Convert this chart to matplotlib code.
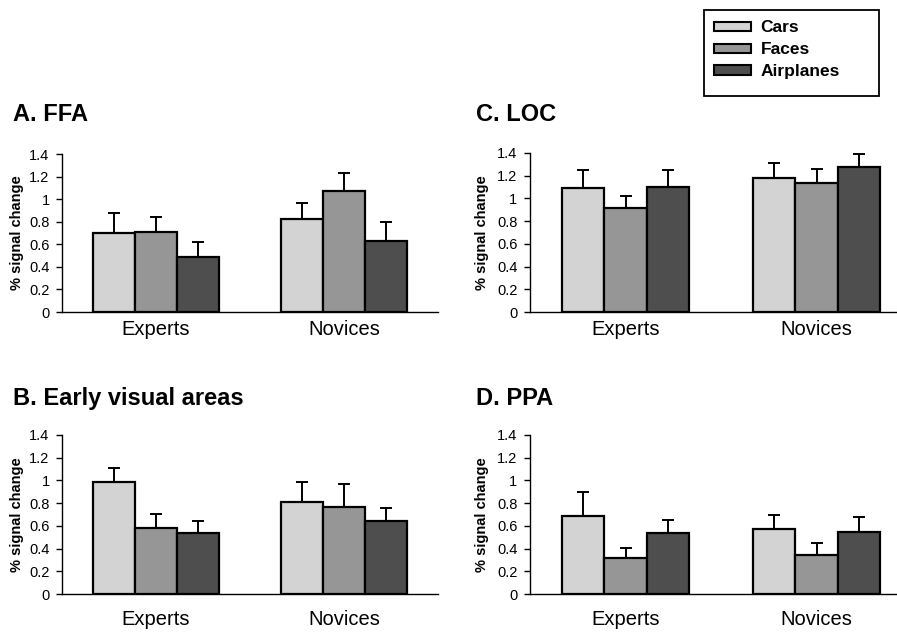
import matplotlib
matplotlib.use("Agg")
import matplotlib.pyplot as plt
from matplotlib.patches import Patch, Rectangle
import numpy as np

plt.rcParams['font.family'] = ['Liberation Sans', 'DejaVu Sans']

groups = ["Experts", "Novices"]
conditions = ["Cars", "Faces", "Airplanes"]
colors = ["#d3d3d3", "#969696", "#4e4e4e"]

# values [condition][group], upper error bar extent
ffa_vals = [[0.70, 0.82], [0.71, 1.07], [0.49, 0.63]]
ffa_err = [[0.18, 0.15], [0.13, 0.16], [0.13, 0.17]]
loc_vals = [[1.09, 1.18], [0.92, 1.14], [1.10, 1.28]]
loc_err = [[0.16, 0.13], [0.10, 0.12], [0.15, 0.11]]
early_vals = [[0.99, 0.81], [0.585, 0.765], [0.54, 0.64]]
early_err = [[0.12, 0.175], [0.12, 0.20], [0.105, 0.115]]
ppa_vals = [[0.69, 0.57], [0.32, 0.34], [0.54, 0.55]]
ppa_err = [[0.21, 0.125], [0.085, 0.105], [0.115, 0.13]]

yticks = [0, 0.2, 0.4, 0.6, 0.8, 1.0, 1.2, 1.4]
ytick_labels = ["0", "0.2", "0.4", "0.6", "0.8", "1", "1.2", "1.4"]

W, H = 897, 633
fig = plt.figure(figsize=(W / 100, H / 100), dpi=100)

def px_axes(x0, x1, ytop, ybot):
    return [x0 / W, 1 - ybot / H, (x1 - x0) / W, (ybot - ytop) / H]

panels = [
    ("A. FFA", ffa_vals, ffa_err, px_axes(62, 438, 154, 312), (13, 121), 5.5, 38),
    ("C. LOC", loc_vals, loc_err, px_axes(530, 912, 153, 312), (476, 121), 5.5, 41),
    ("B. Early visual areas", early_vals, early_err, px_axes(62, 438, 435, 594), (13, 405), 11.5, 38),
    ("D. PPA", ppa_vals, ppa_err, px_axes(530, 912, 435, 594), (476, 405), 11.5, 41),
]

bw = 0.222
x = np.arange(len(groups))
for title, vals, errs, pos, tpos, xpad, lpad in panels:
    ax = fig.add_axes(pos)
    for i, (v, e, c) in enumerate(zip(vals, errs, colors)):
        xs = x + (i - 1) * bw
        ax.bar(xs, v, width=bw, color=c, edgecolor="black", linewidth=1.6, zorder=3)
        ax.errorbar(xs, v, yerr=[np.zeros(len(e)), e], fmt="none", ecolor="black",
                    elinewidth=1.4, capsize=4, capthick=1.4, zorder=2)
    ax.set_xlim(-0.5, 1.5)
    ax.set_ylim(0, 1.4)
    ax.set_yticks(yticks)
    ax.set_yticklabels(ytick_labels, fontsize=10.5)
    ax.set_xticks(x)
    ax.set_xticklabels(groups, fontsize=14.5)
    ax.tick_params(axis="x", length=0, pad=xpad)
    ax.tick_params(axis="y", length=4, width=1, pad=5, direction="out")
    for s in ["top", "right"]:
        ax.spines[s].set_visible(False)
    ax.spines["left"].set_linewidth(1)
    ax.spines["bottom"].set_linewidth(1)
    ax.set_ylabel("% signal change", fontsize=10.5, fontweight="bold")
    axw = pos[2] * W
    ax.yaxis.set_label_coords(-lpad / axw, 0.5)
    fig.text(tpos[0] / W, 1 - tpos[1] / H, title, fontsize=17, fontweight="bold",
             ha="left", va="baseline")

# legend frame drawn as a rectangle to match reference box size
fig.patches.append(Rectangle((704 / W, 1 - 96 / H), (879 - 704) / W, (96 - 10) / H,
                             transform=fig.transFigure, facecolor="white",
                             edgecolor="black", linewidth=1.3, zorder=1))
handles = [Patch(facecolor=c, edgecolor="black", linewidth=1.5) for c in colors]
leg = fig.legend(handles, conditions, loc="upper left",
                 bbox_to_anchor=(704 / W, 1 - 10 / H),
                 prop={"size": 12.5, "weight": "bold"},
                 frameon=False,
                 handlelength=2.1, handleheight=0.45, handletextpad=0.55,
                 labelspacing=0.4, borderpad=0.6, borderaxespad=0)
leg.set_zorder(5)

fig.savefig("out.png", dpi=100)
